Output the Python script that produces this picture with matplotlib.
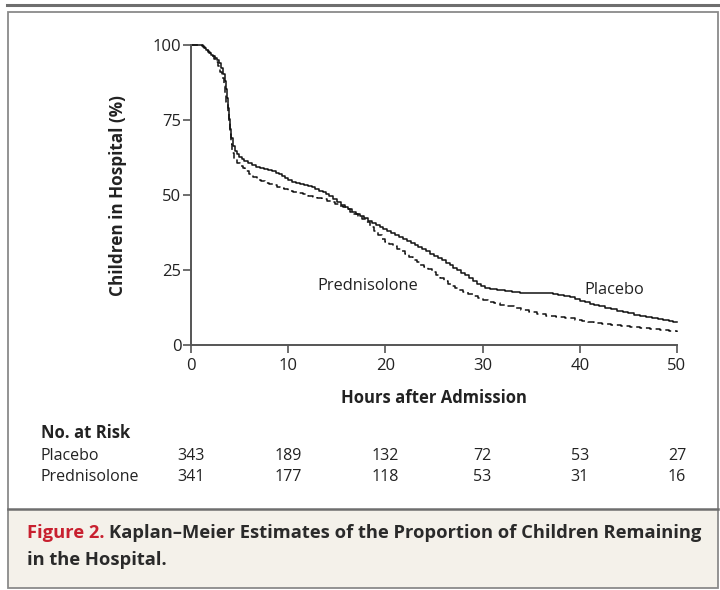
import matplotlib
matplotlib.use("Agg")
import matplotlib.pyplot as plt
from matplotlib.patches import Rectangle
from matplotlib.lines import Line2D
import matplotlib.transforms as mtransforms

plt.rcParams['font.family'] = ['Open Sans', 'DejaVu Sans']

# ---------------- data ----------------
placebo_t = [0, 0.9, 1.1, 1.3, 1.5, 1.7, 1.9, 2.1, 2.3, 2.5, 2.7, 2.9, 3.1, 3.3, 3.45, 3.6, 3.75,
             3.85, 3.95, 4.05, 4.15, 4.3, 4.5, 4.7, 4.9, 5.2, 5.5, 5.9, 6.3, 6.7, 7.1, 7.5, 7.9,
             8.3, 8.7, 9.1, 9.4, 9.7, 10.0, 10.4, 10.8, 11.2, 11.6, 12.0, 12.4, 12.8, 13.2, 13.6,
             13.9, 14.2, 14.6, 15.0, 15.4, 15.8, 16.2, 16.6, 17.0, 17.4, 17.8, 18.2, 18.6, 19.0,
             19.4, 19.8, 20.2, 20.6, 21.0, 21.4, 21.8, 22.2, 22.6, 23.0, 23.4, 23.8, 24.2, 24.6,
             25.0, 25.4, 25.8, 26.2, 26.6, 27.0, 27.4, 27.8, 28.2, 28.6, 29.0, 29.4, 29.8, 30.2,
             30.8, 31.5, 32.3, 33.0, 33.8, 34.8, 36.0, 37.2, 37.8, 38.4, 39.0, 39.5, 40.0, 40.5,
             41.0, 41.5, 42.0, 42.6, 43.2, 43.8, 44.4, 45.0, 45.6, 46.2, 46.8, 47.4, 48.0, 48.6,
             49.2, 49.6, 50.0]
placebo_s = [100, 100, 99.6, 99.1, 98.5, 98.0, 97.4, 96.8, 96.2, 95.6, 95.0, 94.0, 92.5, 90.5, 88,
             85.5, 82.5, 79, 75.5, 72, 69, 66.5, 64.8, 63.6, 62.8, 62.0, 61.3, 60.6, 60.0, 59.4,
             59.0, 58.6, 58.2, 57.9, 57.5, 57.0, 56.4, 55.6, 54.9, 54.4, 54.0, 53.7, 53.4, 53.0,
             52.6, 52.1, 51.5, 50.9, 50.3, 49.6, 48.6, 47.6, 46.8, 46.0, 45.2, 44.4, 43.6, 42.9,
             42.2, 41.5, 40.7, 40.0, 39.3, 38.6, 37.9, 37.2, 36.6, 36.0, 35.4, 34.8, 34.1, 33.4,
             32.6, 31.9, 31.2, 30.5, 29.8, 29.1, 28.3, 27.5, 26.7, 25.8, 25.0, 24.1, 23.2, 22.3,
             21.3, 20.3, 19.6, 19.1, 18.8, 18.5, 18.1, 17.8, 17.5, 17.3, 17.2, 17.0, 16.7, 16.4,
             16.0, 15.4, 14.8, 14.3, 13.8, 13.3, 12.9, 12.5, 11.9, 11.5, 11.1, 10.6, 10.1, 9.7,
             9.4, 9.1, 8.7, 8.3, 8.0, 7.8, 7.8]

pred_t = [0, 1.0, 1.2, 1.4, 1.6, 1.8, 2.0, 2.2, 2.4, 2.6, 2.8, 3.0, 3.2, 3.35, 3.5, 3.65, 3.8,
          3.9, 4.0, 4.1, 4.25, 4.45, 4.7, 5.0, 5.3, 5.6, 6.0, 6.4, 6.8, 7.2, 7.6, 8.0, 8.4, 8.8,
          9.2, 9.6, 10.0, 10.5, 11.0, 11.5, 12.0, 12.5, 13.0, 13.5, 14.0, 14.4, 14.8, 15.2, 15.6,
          16.0, 16.4, 16.8, 17.2, 17.6, 18.0, 18.4, 18.8, 19.2, 19.6, 20.0, 20.4, 20.8, 21.2,
          21.6, 22.0, 22.4, 22.8, 23.2, 23.6, 24.0, 24.4, 24.8, 25.2, 25.6, 26.0, 26.4, 26.8,
          27.2, 27.6, 28.0, 28.5, 29.0, 29.5, 30.0, 30.6, 31.2, 31.8, 32.5, 33.2, 34.0, 34.8,
          35.6, 36.5, 37.5, 38.5, 39.5, 40.2, 40.8, 41.5, 42.3, 43.2, 44.2, 45.2, 46.2, 47.2,
          48.2, 49.2, 50.0]
pred_s = [100, 100, 99.5, 99.0, 98.4, 97.8, 97.2, 96.5, 95.5, 94.5, 93.0, 91.0, 89.0, 86.5, 84,
          81, 77.5, 74, 70.5, 67, 64, 62, 60.8, 59.8, 58.9, 58.0, 57.0, 56.0, 55.1, 54.6, 54.1,
          53.6, 53.2, 52.8, 52.4, 52.0, 51.5, 51.0, 50.6, 50.2, 49.8, 49.4, 49.0, 48.6, 48.1,
          47.6, 47.1, 46.5, 45.9, 45.2, 44.4, 43.6, 42.9, 42.0, 40.9, 39.5, 38.0, 36.6, 35.4,
          34.5, 33.7, 32.9, 32.1, 31.2, 30.3, 29.4, 28.4, 27.6, 26.8, 26.0, 25.2, 24.4, 23.3,
          22.2, 21.2, 20.4, 19.7, 19.0, 18.3, 17.6, 16.9, 16.2, 15.6, 15.0, 14.4, 13.9, 13.4,
          12.9, 12.3, 11.6, 11.0, 10.3, 9.8, 9.4, 9.0, 8.5, 8.1, 7.7, 7.3, 6.9, 6.6, 6.3, 5.9,
          5.6, 5.2, 4.9, 4.6, 4.4]

risk_times = [0, 10, 20, 30, 40, 50]
risk_placebo = [343, 189, 132, 72, 53, 27]
risk_pred = [341, 177, 118, 53, 31, 16]
x_ticks = [0, 10, 20, 30, 40, 50]
y_ticks = [0, 25, 50, 75, 100]

# ---------------- figure ----------------
W, H = 720, 590
fig = plt.figure(figsize=(W / 100, H / 100), dpi=100)
fig.patch.set_facecolor('white')

def fx(px):
    return px / W

def fy(py):
    return 1 - py / H

TXT = '#222222'

# frame decorations
fig.add_artist(Line2D([fx(7), fx(720)], [fy(5), fy(5)], color='#6e6e6e', lw=2.2))
fig.add_artist(Rectangle((fx(8), fy(588)), fx(718) - fx(8), fy(510) - fy(588),
                         facecolor='#f4f1ea', edgecolor='none', zorder=0))
fig.add_artist(Rectangle((fx(8), fy(588)), fx(718) - fx(8), fy(12) - fy(588),
                         facecolor='none', edgecolor='#8a8a8a', lw=1.3))
fig.add_artist(Line2D([fx(8), fx(718)], [fy(509), fy(509)], color='#6e6e6e', lw=1.8))

ax = fig.add_axes([fx(191), fy(345), fx(677) - fx(191), fy(45) - fy(345)])
ax.set_xlim(0, 50)
ax.set_ylim(0, 100)
ax.step(placebo_t, placebo_s, where='post', color='#111111', lw=1.1, clip_on=False)
ax.step(pred_t, pred_s, where='post', color='#111111', lw=1.1, ls=(0, (4.5, 2.5)), clip_on=False)

for s in ['top', 'right']:
    ax.spines[s].set_visible(False)
for s in ['left', 'bottom']:
    ax.spines[s].set_color('#555555')
    ax.spines[s].set_linewidth(1.4)
ax.set_xticks(x_ticks)
ax.set_yticks(y_ticks)
ax.tick_params(axis='both', direction='out', length=6, width=1.2, color='#555555',
               labelsize=12, labelcolor=TXT)
ax.tick_params(axis='y', pad=1)
ax.tick_params(axis='x', pad=3)
ax.set_facecolor('none')

fig.text(fx(434), fy(398), 'Hours after Admission', fontsize=12, fontweight='bold', color=TXT,
         ha='center', va='center')
fig.text(fx(118), fy(196), 'Children in Hospital (%)', fontsize=12.3, fontweight='bold', color=TXT,
         ha='center', va='center', rotation=90)

ax.text(13.0, 19.5, 'Prednisolone', fontsize=11.8, color=TXT, ha='left', va='center')
ax.text(40.5, 18.5, 'Placebo', fontsize=11.8, color=TXT, ha='left', va='center')

# No. at risk table
trans = mtransforms.blended_transform_factory(ax.transData, fig.transFigure)
fig.text(fx(41), fy(433), 'No. at Risk', fontsize=12, fontweight='bold', color=TXT,
         ha='left', va='center')
fig.text(fx(41), fy(456), 'Placebo', fontsize=11.5, color=TXT, ha='left', va='center')
fig.text(fx(41), fy(477), 'Prednisolone', fontsize=11.5, color=TXT, ha='left', va='center')
for t, a, b in zip(risk_times, risk_placebo, risk_pred):
    ax.text(t, fy(456), str(a), transform=trans, fontsize=11.5, color=TXT,
            ha='center', va='center', clip_on=False)
    ax.text(t, fy(477), str(b), transform=trans, fontsize=11.5, color=TXT,
            ha='center', va='center', clip_on=False)

# caption
fig.canvas.draw()
renderer = fig.canvas.get_renderer()
t1 = fig.text(fx(27), fy(533), 'Figure 2.', fontsize=13.2, fontweight='bold', color='#c8202f',
              ha='left', va='center')
bb = t1.get_window_extent(renderer=renderer)
fig.text((bb.x1 + 5) / W, fy(533), 'Kaplan\u2013Meier Estimates of the Proportion of Children Remaining',
         fontsize=13.2, fontweight='bold', color='#2a2a2a', ha='left', va='center')
fig.text(fx(27), fy(560), 'in the Hospital.', fontsize=13.2, fontweight='bold', color='#2a2a2a',
         ha='left', va='center')

fig.savefig('out.png', dpi=100)
